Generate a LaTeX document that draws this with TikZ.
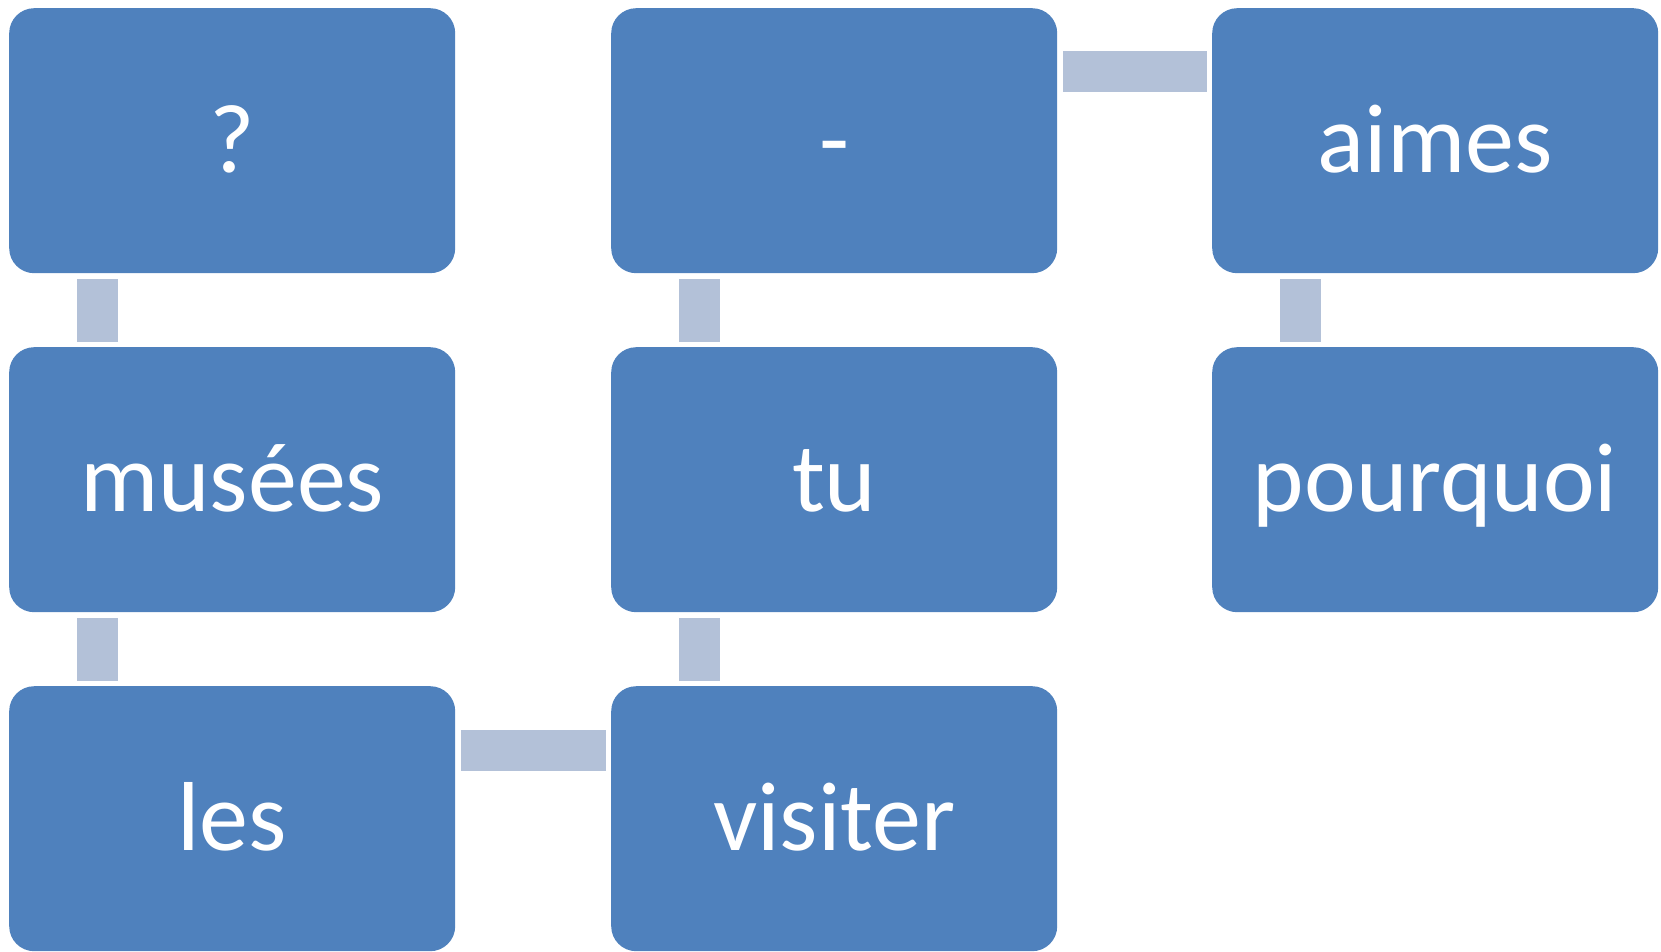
\documentclass[tikz,border=0pt]{standalone}
\usepackage{fontspec}
\setmainfont{Carlito}
\definecolor{boxblue}{HTML}{4F81BD}
\definecolor{connblue}{HTML}{B3C1D8}
\begin{document}
\begin{tikzpicture}[x=1pt,y=-1pt,
  wbox/.style={draw=none,fill=boxblue,rounded corners=25pt,minimum width=446pt,minimum height=265pt,
    inner sep=0pt,anchor=north west,text=white,font=\fontsize{98}{98}\selectfont,text height=63pt,text depth=0pt},
  conn/.style={draw=connblue,line width=41pt,line cap=butt,shorten <=6pt,shorten >=5pt}]
\useasboundingbox (0,0) rectangle (1661,952);
\node[wbox] (q) at (9,8) {?};
\node[wbox] (musees) at (9,347) {musées};
\node[wbox] (les) at (9,686) {les};
\node[wbox] (dash) at (611,8) {-};
\node[wbox] (tu) at (611,347) {tu};
\node[wbox] (visiter) at (611,686) {visiter};
\node[wbox] (aimes) at (1212,8) {aimes};
\node[wbox] (pourquoi) at (1212,347) {pourquoi};
% vertical connectors
\draw[conn] ([xshift=88.5pt]q.south west) -- ([xshift=88.5pt]musees.north west);
\draw[conn] ([xshift=88.5pt]musees.south west) -- ([xshift=88.5pt]les.north west);
\draw[conn] ([xshift=88.5pt]dash.south west) -- ([xshift=88.5pt]tu.north west);
\draw[conn] ([xshift=88.5pt]tu.south west) -- ([xshift=88.5pt]visiter.north west);
\draw[conn] ([xshift=88.5pt]aimes.south west) -- ([xshift=88.5pt]pourquoi.north west);
% horizontal connectors
\draw[conn] ([yshift=-63.5pt]dash.north east) -- ([yshift=-63.5pt]aimes.north west);
\draw[conn] ([yshift=-64.5pt]les.north east) -- ([yshift=-64.5pt]visiter.north west);
\end{tikzpicture}
\end{document}
